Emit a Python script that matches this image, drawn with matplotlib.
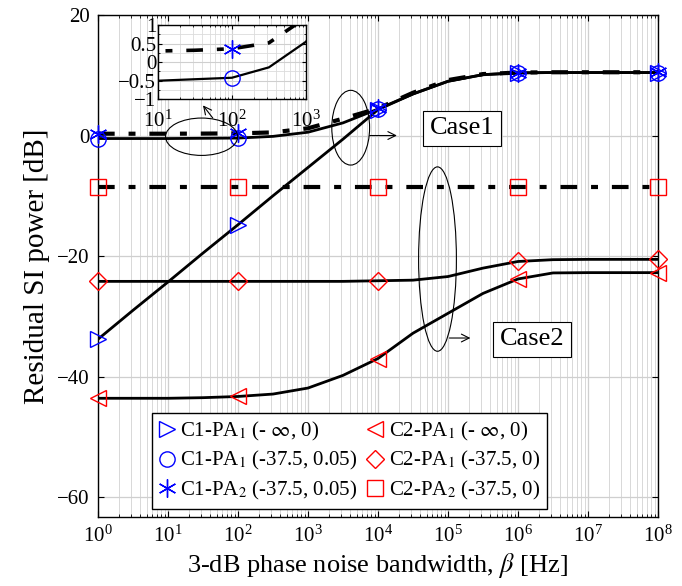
import numpy as np
import matplotlib
matplotlib.use("Agg")
import matplotlib.pyplot as plt
from matplotlib.patches import Ellipse
from matplotlib.lines import Line2D
from matplotlib.ticker import LogLocator, NullFormatter, FixedLocator

plt.rcParams['font.family'] = ['Liberation Serif', 'DejaVu Serif']
plt.rcParams['mathtext.fontset'] = 'stix'
plt.rcParams['lines.scale_dashes'] = False

# ---- data (x = 3-dB bandwidth in Hz, log-spaced every half decade) ----
beta_exp = [0, 0.5, 1, 1.5, 2, 2.5, 3, 3.5, 4, 4.5, 5, 5.5, 6, 6.5, 7, 7.5, 8]
beta = [10.0 ** e for e in beta_exp]

c1_pa1_inf = [-33.8, -29.0, -24.3, -19.5, -14.8, -10.0, -5.3, -0.6, 4.3,
              6.9, 9.0, 10.1, 10.4, 10.45, 10.45, 10.45, 10.45]
c1_pa1_375 = [-0.5, -0.5, -0.5, -0.46, -0.42, -0.14, 0.55, 2.1, 4.4,
              6.9, 9.0, 10.1, 10.4, 10.45, 10.45, 10.45, 10.45]
c1_pa2_375 = [0.3, 0.3, 0.3, 0.32, 0.36, 0.52, 1.2, 2.8, 4.5,
              7.1, 9.2, 10.2, 10.45, 10.5, 10.5, 10.5, 10.5]
c2_pa1_inf = [-43.6, -43.6, -43.6, -43.5, -43.3, -42.9, -41.9, -39.8, -37.0,
              -32.8, -29.5, -26.2, -23.8, -22.8, -22.75, -22.75, -22.75]
c2_pa1_375 = [-24.2, -24.2, -24.2, -24.2, -24.2, -24.2, -24.2, -24.2, -24.1,
              -24.0, -23.4, -22.0, -20.9, -20.6, -20.55, -20.55, -20.55]
c2_pa2_375 = [-8.5] * 17

labels = [
    r'C1-PA$_1$ (- $\infty$, 0)',
    r'C1-PA$_1$ (-37.5, 0.05)',
    r'C1-PA$_2$ (-37.5, 0.05)',
    r'C2-PA$_1$ (- $\infty$, 0)',
    r'C2-PA$_1$ (-37.5, 0)',
    r'C2-PA$_2$ (-37.5, 0)',
]
ytick_vals = [-60, -40, -20, 0, 20]
inset_yticks = [-1, -0.5, 0, 0.5, 1]
inset_ytick_labels = ['−1', '−0.5', '0', '0.5', '1']

YMIN, YMAX = -63.3, 20
TICK_FS = 15

fig = plt.figure(figsize=(6.82, 5.86), dpi=100)
ax = fig.add_axes([98 / 682, 1 - 517 / 586, 560 / 682, 502 / 586])

BLUE = (0, 0, 1)
RED = (1, 0, 0)
ASTER = (6, 2, 0)
dashdot = (0, (12, 10, 5, 10))

series = [
    (c1_pa1_inf, '-', '>', BLUE, 2.0),
    (c1_pa1_375, '-', 'o', BLUE, 2.0),
    (c1_pa2_375, dashdot, ASTER, BLUE, 3.0),
    (c2_pa1_inf, '-', '<', RED, 2.0),
    (c2_pa1_375, '-', 'D', RED, 2.0),
    (c2_pa2_375, dashdot, 's', RED, 3.0),
]
msizes = {'>': 11, 'o': 11, ASTER: 13, '<': 11, 'D': 9, 's': 11}

for vals, ls, mk, col, lw in series:
    ax.plot(beta, vals, color='black', ls=ls, lw=lw, zorder=3)
    ax.plot(beta[::4], vals[::4], ls='none', marker=mk, ms=msizes[mk],
            mfc='none', mec=col, mew=1.0, zorder=4, clip_on=False)

ax.set_xscale('log')
ax.set_xlim(1, 1e8)
ax.set_ylim(YMIN, YMAX)
ax.xaxis.set_major_locator(LogLocator(base=10, numticks=20))
ax.xaxis.set_minor_locator(LogLocator(base=10, subs=np.arange(2, 10), numticks=100))
ax.xaxis.set_minor_formatter(NullFormatter())
ax.set_yticks(ytick_vals)
ax.grid(True, which='major', color='#cfcfcf', lw=0.9)
ax.grid(True, which='minor', axis='x', color='#d8d8d8', lw=0.7)
ax.set_axisbelow(True)
ax.tick_params(which='both', direction='in', labelsize=TICK_FS, top=True, right=True)
ax.tick_params(which='major', length=4, pad=6)
ax.tick_params(which='minor', length=2)
for s in ax.spines.values():
    s.set_linewidth(1.0)
ax.set_xlabel(r'3-dB phase noise bandwidth, $\beta$ [Hz]', fontsize=19, labelpad=3)
ax.set_ylabel('Residual SI power [dB]', fontsize=21, labelpad=5)

# legend
handles = []
for vals, ls, mk, col, lw in series:
    handles.append(Line2D([], [], ls='none', marker=mk, ms=msizes[mk],
                          mfc='none', mec=col, mew=1.0))
leg = ax.legend(handles, labels, ncol=2, loc='lower left',
                bbox_to_anchor=(0.097, 0.016), fontsize=15, frameon=True,
                fancybox=False, edgecolor='black', framealpha=1,
                handlelength=0.7, handletextpad=0.3, columnspacing=0.5,
                borderpad=0.35, labelspacing=0.3, borderaxespad=0)
leg.get_frame().set_linewidth(1.0)
leg.set_zorder(10)


def af(lx, db):
    return lx / 8.0, (db - YMIN) / (YMAX - YMIN)


def ellipse(lx, db, wdec, hdb):
    cx, cy = af(lx, db)
    e = Ellipse((cx, cy), wdec / 8.0, hdb / (YMAX - YMIN), transform=ax.transAxes,
                fill=False, ec='black', lw=0.8, zorder=6)
    ax.add_patch(e)


def arrow(lx0, db0, lx1, db1):
    ax.annotate('', xy=af(lx1, db1), xytext=af(lx0, db0), xycoords='axes fraction',
                textcoords='axes fraction',
                arrowprops=dict(arrowstyle='->', lw=0.8, color='black',
                                shrinkA=0, shrinkB=0, mutation_scale=14), zorder=6)


ellipse(1.48, -0.2, 1.03, 6.2)
arrow(1.64, 2.9, 1.50, 5.0)
ellipse(3.61, 1.3, 0.54, 12.4)
arrow(3.88, 0.0, 4.27, 0.0)
ellipse(4.85, -20.5, 0.54, 30.6)
arrow(5.02, -33.6, 5.32, -33.6)

bb = dict(boxstyle='square,pad=0.25', fc='white', ec='black', lw=0.8)
cx, cy = af(5.2, 1.2)
ax.text(cx, cy, 'Case1', transform=ax.transAxes, fontsize=19, ha='center',
        va='center', bbox=bb, zorder=7)
cx, cy = af(6.2, -33.8)
ax.text(cx, cy, 'Case2', transform=ax.transAxes, fontsize=19, ha='center',
        va='center', bbox=bb, zorder=7)

# inset
axi = fig.add_axes([157.7 / 682, 1 - 99.3 / 586, 148.3 / 682, 74.3 / 586])
axi.set_facecolor('white')
axi.set_zorder(8)
axi.plot(beta, c1_pa1_375, color='black', lw=1.6)
axi.plot(beta, c1_pa2_375, color='black', ls=dashdot, lw=2.6)
axi.plot([beta[4]], [c1_pa1_375[4]], ls='none', marker='o', ms=11, mfc='none',
         mec=BLUE, mew=1.0)
axi.plot([beta[4]], [c1_pa2_375[4]], ls='none', marker=ASTER, ms=13, mfc='none',
         mec=BLUE, mew=1.0)
axi.set_xscale('log')
axi.set_xlim(10, 1000)
axi.set_ylim(-1, 1)
axi.xaxis.set_major_locator(LogLocator(base=10, numticks=10))
axi.xaxis.set_minor_locator(LogLocator(base=10, subs=np.arange(2, 10), numticks=100))
axi.xaxis.set_minor_formatter(NullFormatter())
axi.set_yticks(inset_yticks)
axi.set_yticklabels(inset_ytick_labels)
axi.yaxis.set_minor_locator(FixedLocator([-0.75, -0.25, 0.25, 0.75]))
axi.grid(True, which='major', color='#cfcfcf', lw=0.8)
axi.grid(True, which='minor', color='#dcdcdc', lw=0.6)
axi.tick_params(which='both', direction='in', labelsize=TICK_FS, top=True, right=True)
axi.tick_params(axis='y', pad=1)
axi.tick_params(axis='x', pad=8)
axi.tick_params(which='major', length=3)
axi.tick_params(which='minor', length=1.5)
for s in axi.spines.values():
    s.set_linewidth(1.0)

fig.savefig('out.png', dpi=100)
